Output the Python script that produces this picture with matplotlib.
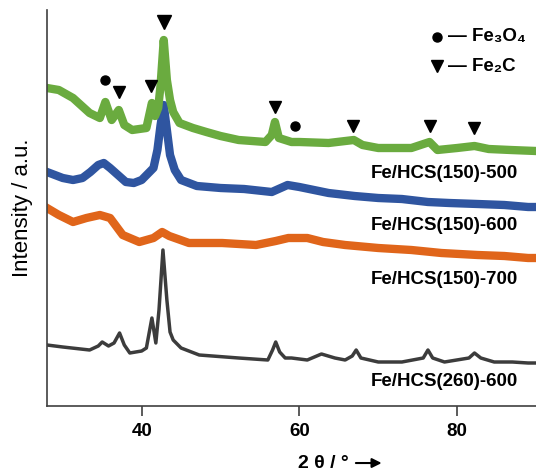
import matplotlib
matplotlib.use("Agg")
import matplotlib.pyplot as plt

plt.rcParams['font.family'] = ['Liberation Sans', 'DejaVu Sans']

# --- datos (2 theta en grados, intensidad en u.a. con desplazamiento) ---
x_500 = [28, 29.5, 31.3, 33.4, 34.7, 35.4, 36.2, 37.1, 37.8, 38.8, 40.6, 41.3, 41.7, 42.1,
         42.4, 42.8, 43.2, 43.6, 44, 44.8, 46.5, 48.2, 50, 52.3, 55.7, 56.5, 56.9, 57.4,
         59, 60, 63.7, 66.9, 68, 70, 74.2, 76.5, 77.5, 80, 82.2, 84, 86.8, 90]
y_500 = [318, 316, 308, 293, 288, 304, 286, 296, 281, 276, 278, 303, 290, 298,
         321, 366, 326, 306, 294, 283, 278, 274, 270, 266, 264, 271, 284, 268,
         264, 264, 263, 266, 261, 258, 258, 264, 256, 258, 260, 257, 256, 255]

x_600 = [28, 29, 30, 31.3, 32.5, 33.5, 34.5, 35.2, 36, 37, 38, 39, 40, 41, 41.5, 42,
         42.4, 42.8, 43.2, 43.6, 44.2, 45, 47, 50, 53, 56.5, 58.5, 60, 63.7, 67, 70,
         73, 76.3, 79, 82.6, 86, 89, 90]
y_600 = [234, 231, 228, 226, 228, 234, 241, 243, 238, 231, 224, 223, 226, 234, 238, 256,
         281, 301, 276, 251, 236, 226, 220, 218, 217, 214, 221, 219, 213, 210, 208,
         207, 204, 203, 202, 201, 199, 199]

x_700 = [28, 29.5, 31.3, 33, 34.7, 36, 37.6, 39.7, 41.5, 42.6, 43.5, 46, 50.2, 54.5, 57,
         58.6, 61, 63, 65.8, 70, 74.2, 78, 82.6, 86, 89, 90]
y_700 = [198, 191, 184, 188, 191, 188, 171, 164, 168, 174, 170, 163, 163, 161, 165,
         168, 168, 164, 161, 158, 156, 153, 151, 150, 148, 148]

x_260 = [28, 30, 33.4, 34.5, 35, 35.8, 36.5, 37.2, 37.8, 38.5, 40, 40.6, 41.3, 41.8,
         42.2, 42.7, 43.2, 43.6, 44, 45, 47.3, 52.3, 56, 56.6, 57, 57.5, 58.2, 59, 61,
         62.8, 64.5, 65.8, 66.7, 67.2, 67.8, 70, 73, 75.7, 76.3, 76.9, 78.4, 81.5, 82.2,
         83, 84.7, 87, 89, 90]
y_260 = [61, 59, 56, 60, 64, 60, 63, 73, 61, 53, 55, 58, 88, 63,
         96, 156, 106, 74, 66, 58, 51, 48, 46, 56, 64, 54, 48, 48, 46,
         52, 48, 46, 50, 56, 48, 44, 44, 48, 56, 48, 44, 48, 53,
         48, 44, 44, 43, 43]

# picos marcados
fe2c_x = [37.1, 41.2, 56.9, 66.8, 76.6, 82.1]
fe2c_y = [314, 320, 299, 280, 280, 278]
fe2c_top_x = [42.8]
fe2c_top_y = [384]
fe3o4_x = [35.4, 59.5]
fe3o4_y = [326, 280]

etiquetas = ['Fe/HCS(150)-500', 'Fe/HCS(150)-600', 'Fe/HCS(150)-700', 'Fe/HCS(260)-600']
etiqueta_y = [233, 181, 127, 25]

fig = plt.figure(figsize=(5.36, 4.72), dpi=100)
ax = fig.add_axes([47 / 536, 66 / 472, 489 / 536, 396 / 472])

ax.plot(x_260, y_260, color='#3c3c3c', lw=2.5, solid_joinstyle='round')
ax.plot(x_700, y_700, color='#e0651a', lw=6, solid_joinstyle='round')
ax.plot(x_600, y_600, color='#2f55a0', lw=6, solid_joinstyle='round')
ax.plot(x_500, y_500, color='#6aab3f', lw=6, solid_joinstyle='round')

ax.plot(fe2c_x, fe2c_y, 'v', color='black', ms=9, ls='none')
ax.plot(fe2c_top_x, fe2c_top_y, 'v', color='black', ms=10, ls='none')
ax.plot(fe3o4_x, fe3o4_y, 'o', color='black', ms=6.5, ls='none')

for txt, yy in zip(etiquetas, etiqueta_y):
    ax.text(87.7, yy, txt, ha='right', va='center', fontsize=13.5, fontweight='bold')

# leyenda manual
ax.plot([77.45], [369], 'o', color='black', ms=6.5)
ax.plot([77.45], [340], 'v', color='black', ms=9)
ax.text(78.8, 369, '— Fe₃O₄', ha='left', va='center', fontsize=13.5, fontweight='bold')
ax.text(78.8, 340, '— Fe₂C', ha='left', va='center', fontsize=13.5, fontweight='bold')

ax.set_xlim(28, 90)
ax.set_ylim(0, 396)
ax.set_xticks([40, 60, 80])
ax.set_yticks([])
ax.tick_params(axis='x', direction='out', length=7, width=1.2, pad=5,
               labelsize=13.5, color='#404040')
for lab in ax.get_xticklabels():
    lab.set_fontweight('bold')
for s in ['top', 'right']:
    ax.spines[s].set_visible(False)
for s in ['left', 'bottom']:
    ax.spines[s].set_color('#404040')
    ax.spines[s].set_linewidth(1.2)

ax.set_ylabel('Intensity / a.u.', fontsize=16, labelpad=10)
ax.text(0.513, -0.146, '2 θ / °', transform=ax.transAxes, ha='left', va='center',
        fontsize=14, fontweight='bold')
ax.annotate('', xy=(0.69, -0.144), xytext=(0.626, -0.144), xycoords='axes fraction',
            arrowprops=dict(arrowstyle='-|>', color='black', lw=1.5, mutation_scale=14))

fig.savefig('out.png', dpi=100)
